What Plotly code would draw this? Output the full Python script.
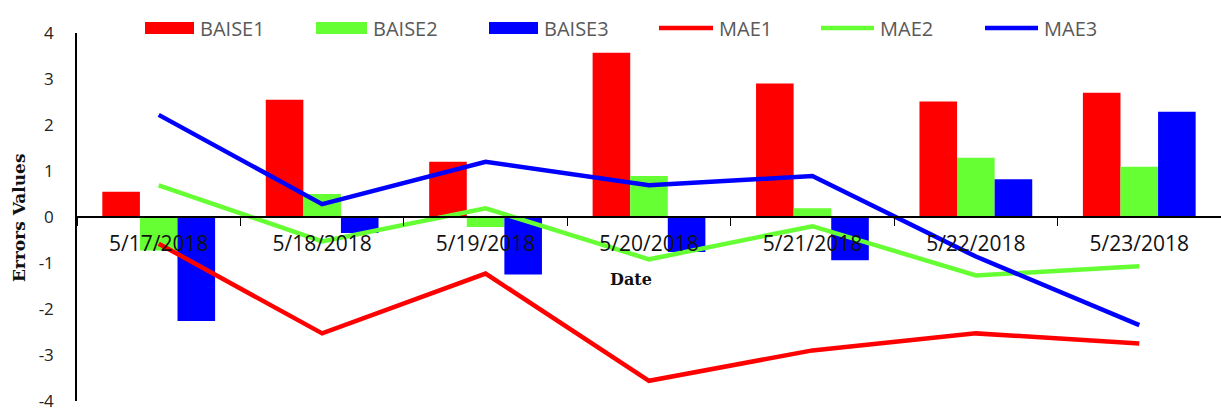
import plotly.graph_objects as go

# Daily error metrics for three models
dates = ["5/17/2018", "5/18/2018", "5/19/2018", "5/20/2018",
         "5/21/2018", "5/22/2018", "5/23/2018"]

baise1 = [0.55, 2.55, 1.20, 3.57, 2.90, 2.51, 2.70]
baise2 = [-0.73, 0.50, -0.22, 0.89, 0.19, 1.29, 1.09]
baise3 = [-2.26, -0.35, -1.25, -0.76, -0.94, 0.82, 2.29]

mae1 = [-0.58, -2.53, -1.23, -3.56, -2.90, -2.53, -2.75]
mae2 = [0.69, -0.53, 0.19, -0.92, -0.20, -1.27, -1.07]
mae3 = [2.22, 0.28, 1.20, 0.69, 0.89, -0.86, -2.35]

y_ticks = [4, 3, 2, 1, 0, -1, -2, -3, -4]
y_tick_text = ["4", "3", "2", "1", "0", "-1", "-2", "-3", "-4"]

RED = "#FF0000"
GREEN = "#66FF33"
BLUE = "#0000FF"

W, H = 1221, 411
ML, MR, MT, MB = 77, 0, 33, 10
PW, PH = W - ML - MR, H - MT - MB


def px(x):
    return (x - ML) / PW


def py(y):
    return (H - MB - y) / PH


fig = go.Figure()

for name, vals, col in [("BAISE1", baise1, RED), ("BAISE2", baise2, GREEN),
                        ("BAISE3", baise3, BLUE)]:
    fig.add_trace(go.Bar(x=dates, y=vals, name=name, marker_color=col,
                         marker_line_width=0, showlegend=False))

for name, vals, col in [("MAE1", mae1, RED), ("MAE2", mae2, GREEN),
                        ("MAE3", mae3, BLUE)]:
    fig.add_trace(go.Scatter(x=dates, y=vals, name=name, mode="lines",
                             line=dict(color=col, width=4.5),
                             showlegend=False))

# Legend row across the top
shapes = []
annotations = []
legend_items = [
    ("BAISE1", RED, "bar", 145, 194),
    ("BAISE2", GREEN, "bar", 316, 367),
    ("BAISE3", BLUE, "bar", 489, 538),
    ("MAE1", RED, "line", 659, 713),
    ("MAE2", GREEN, "line", 821, 874),
    ("MAE3", BLUE, "line", 985, 1038),
]
for label, col, kind, x0, x1 in legend_items:
    if kind == "bar":
        shapes.append(dict(type="rect", xref="paper", yref="paper",
                           x0=px(x0), x1=px(x1), y0=py(34), y1=py(22),
                           fillcolor=col, line_width=0))
    else:
        shapes.append(dict(type="line", xref="paper", yref="paper",
                           x0=px(x0), x1=px(x1), y0=py(28), y1=py(28),
                           line=dict(color=col, width=4.5)))
    annotations.append(dict(text=label, xref="paper", yref="paper",
                            x=px(x1 + 4), y=py(28), xanchor="left",
                            yanchor="middle", showarrow=False,
                            font=dict(family="Open Sans", size=20,
                                      color="#595959")))

# Axis titles
annotations.append(dict(text="<b>Errors Values</b>", xref="paper", yref="paper",
                        x=px(19), y=py(218), textangle=-90, showarrow=False,
                        xanchor="center", yanchor="middle",
                        font=dict(family="DejaVu Serif", size=17,
                                  color="#111111")))
annotations.append(dict(text="<b>Date</b>", xref="paper", yref="paper",
                        x=px(631), y=py(279), showarrow=False,
                        xanchor="center", yanchor="middle",
                        font=dict(family="DejaVu Serif", size=16,
                                  color="#111111")))

fig.update_layout(
    width=W, height=H,
    margin=dict(l=ML, r=MR, t=MT, b=MB, autoexpand=False),
    paper_bgcolor="white", plot_bgcolor="white",
    barmode="group", bargap=0.31, bargroupgap=0,
    showlegend=False,
    shapes=shapes, annotations=annotations,
    xaxis=dict(
        type="category", anchor="free", position=0.5, automargin=False,
        showline=True, linecolor="black", linewidth=1.5,
        ticks="outside", ticklen=8, tickwidth=1.2, tickcolor="black",
        tickson="boundaries", showgrid=False, zeroline=False,
        tickfont=dict(family="Open Sans", size=21, color="#111111"),
        ticklabelstandoff=8,
    ),
    yaxis=dict(
        range=[-4, 4], tickvals=y_ticks, ticktext=y_tick_text,
        automargin=False,
        showgrid=False, zeroline=False,
        showline=True, linecolor="black", linewidth=1.5,
        ticks="", ticklabelstandoff=18, ticklabeloverflow="allow",
        tickfont=dict(family="Open Sans", size=17, color="#222222"),
    ),
)

fig.write_html("out.html")
